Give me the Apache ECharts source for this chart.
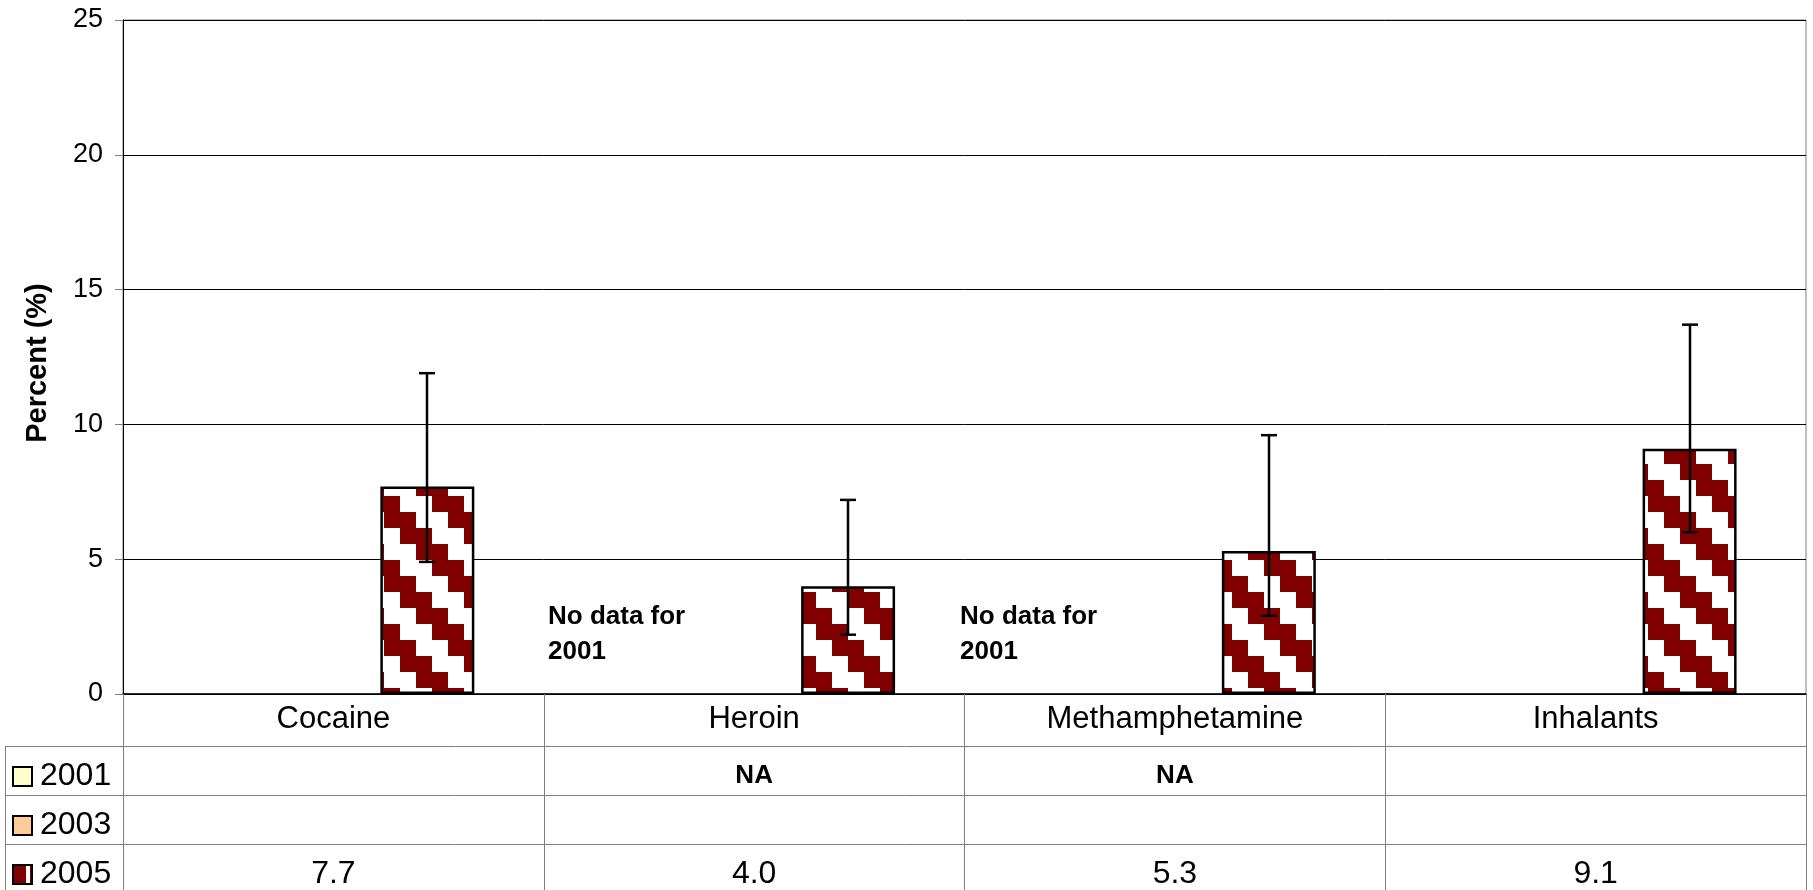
<!DOCTYPE html>
<html><head><meta charset="utf-8">
<script src="https://cdn.jsdelivr.net/npm/echarts/dist/echarts.min.js"></script>
<style>html,body{margin:0;padding:0;background:#fff}#c{width:1813px;height:890px}</style>
</head><body><div id="c"></div>
<script>
// ---- data ----
const categories = ['Cocaine', 'Heroin', 'Methamphetamine', 'Inhalants'];
const seriesNames = ['2001', '2003', '2005'];
const values2001 = [null, null, null, null];
const values2003 = [null, null, null, null];
const values2005 = [7.7, 4.0, 5.3, 9.1];
const ciLow2005 = [4.9, 2.2, 2.9, 6.0];
const ciHigh2005 = [11.9, 7.2, 9.6, 13.7];
const table2001 = ['', 'NA', 'NA', ''];
const table2003 = ['', '', '', ''];
const table2005 = ['7.7', '4.0', '5.3', '9.1'];
const noDataNote = 'No data for\n2001';
const yAxisTitle = 'Percent (%)';

const FONT = '"Liberation Sans", Arial, sans-serif';
const GRID = {left: 123, right: 7, top: 20, bottom: 196};
const CAT_GAP = 0.33;
const CAT_FS = 31;
const TABLE_FS = 32;

function makePattern() {
  const c = document.createElement('canvas');
  c.width = 64; c.height = 64;
  const g = c.getContext('2d');
  g.fillStyle = '#fff'; g.fillRect(0, 0, 64, 64);
  g.fillStyle = '#800000';
  for (let i = 0; i < 4; i++) for (let j = 0; j < 4; j++) {
    if ((((j - i) % 4) + 4) % 4 < 2) g.fillRect(j * 16, i * 16, 16, 16);
  }
  return c;
}
const pattern = {image: makePattern(), repeat: 'repeat'};

const chart = echarts.init(document.getElementById('c'), null, {renderer: 'canvas'});
const option = {
  animation: false,
  backgroundColor: '#fff',
  textStyle: {fontFamily: FONT},
  grid: Object.assign({show: true, borderColor: '#808080', borderWidth: 1, backgroundColor: 'transparent', containLabel: false, outerBoundsMode: 'none'}, GRID),
  xAxis: {
    type: 'category', data: categories,
    axisLine: {show: true, lineStyle: {color: '#000', width: 1.5}},
    axisTick: {show: true, alignWithLabel: false, length: 210, lineStyle: {color: '#808080', width: 1}},
    axisLabel: {fontSize: CAT_FS, color: '#000', margin: 10, fontFamily: FONT},
    splitLine: {show: false}
  },
  yAxis: {
    type: 'value', min: 0, max: 25, interval: 5,
    axisLine: {show: true, lineStyle: {color: '#000', width: 1}},
    axisTick: {show: true, length: 8, lineStyle: {color: '#808080', width: 1}},
    axisLabel: {fontSize: 27, color: '#000', margin: 20, fontFamily: FONT},
    splitLine: {show: true, lineStyle: {color: '#000', width: 1}},
    name: yAxisTitle, nameLocation: 'middle', nameRotate: 90, nameGap: 71,
    nameTextStyle: {fontSize: 29, fontWeight: 'bold', color: '#000', fontFamily: FONT, padding: [0, 12, 0, 0]}
  },
  series: [
    {name: seriesNames[0], type: 'bar', data: values2001, barGap: '0%', barCategoryGap: (CAT_GAP * 100) + '%',
     itemStyle: {color: '#FFFFCC', borderColor: '#000', borderWidth: 2}},
    {name: seriesNames[1], type: 'bar', data: values2003, barGap: '0%', barCategoryGap: (CAT_GAP * 100) + '%',
     itemStyle: {color: '#FFCC99', borderColor: '#000', borderWidth: 2}},
    {name: seriesNames[2], type: 'bar', data: values2005, barGap: '0%', barCategoryGap: (CAT_GAP * 100) + '%',
     itemStyle: {color: pattern, borderColor: '#000', borderWidth: 2.5}},
    {name: 'CI', type: 'custom', z: 10,
     data: categories.map((c, i) => [i, ciLow2005[i], ciHigh2005[i]]),
     encode: {x: 0, y: [1, 2]},
     renderItem: function (params, api) {
       const i = api.value(0);
       const lo = api.coord([i, api.value(1)]);
       const hi = api.coord([i, api.value(2)]);
       const band = api.size([1, 0])[0];
       const x = Math.round(lo[0] + band * (1 - CAT_GAP) / 3);
       const hw = 8;
       const st = {stroke: '#000', lineWidth: 2.5};
       return {type: 'group', children: [
         {type: 'line', shape: {x1: x, y1: hi[1], x2: x, y2: lo[1]}, style: st},
         {type: 'line', shape: {x1: x - hw, y1: hi[1], x2: x + hw, y2: hi[1]}, style: st},
         {type: 'line', shape: {x1: x - hw, y1: lo[1], x2: x + hw, y2: lo[1]}, style: st}
       ]};
     }}
  ]
};
chart.setOption(option);

// ---- data table below the plot ----
const plotRight = 1813 - GRID.right;
const rowTops = [746, 795, 844];
const tableRows = [table2001, table2003, table2005];
const keyColors = ['#FFFFCC', '#FFCC99', '#800000'];
const gfx = [];
const lineStyle = {stroke: '#808080', lineWidth: 1};
rowTops.forEach(y => gfx.push({type: 'line', silent: true, shape: {x1: 5.5, y1: y + 0.5, x2: plotRight, y2: y + 0.5}, style: lineStyle}));
gfx.push({type: 'line', silent: true, shape: {x1: 5.5, y1: rowTops[0], x2: 5.5, y2: 890}, style: lineStyle});
rowTops.forEach((y, r) => {
  const cy = y + 30;
  gfx.push({type: 'rect', silent: true, shape: {x: 13, y: cy - 9, width: 19, height: 19},
    style: {fill: keyColors[r], stroke: '#000', lineWidth: 2}});
  if (r === 2) gfx.push({type: 'rect', silent: true, shape: {x: 26, y: cy - 8, width: 4, height: 17}, style: {fill: '#fff'}});
  gfx.push({type: 'text', silent: true, x: 40, y: cy, style: {text: seriesNames[r], fontSize: TABLE_FS, fontFamily: FONT, fill: '#000', verticalAlign: 'middle', align: 'left'}});
  tableRows[r].forEach((t, i) => {
    if (!t) return;
    const px = chart.convertToPixel({xAxisIndex: 0}, i);
    const bold = t === 'NA';
    gfx.push({type: 'text', silent: true, x: px, y: cy, style: {text: t, fontSize: bold ? 26 : TABLE_FS, fontWeight: bold ? 'bold' : 'normal', fontFamily: FONT, fill: '#000', align: 'center', verticalAlign: 'middle'}});
  });
});
// "No data for 2001" notes
[548, 960].forEach(x => gfx.push({type: 'text', silent: true, x: x, y: 599,
  style: {text: noDataNote, fontSize: 26, fontWeight: 'bold', fontFamily: FONT, fill: '#000', lineHeight: 35, align: 'left', verticalAlign: 'top'}}));
chart.setOption({graphic: {elements: gfx}});
</script>
</body></html>
